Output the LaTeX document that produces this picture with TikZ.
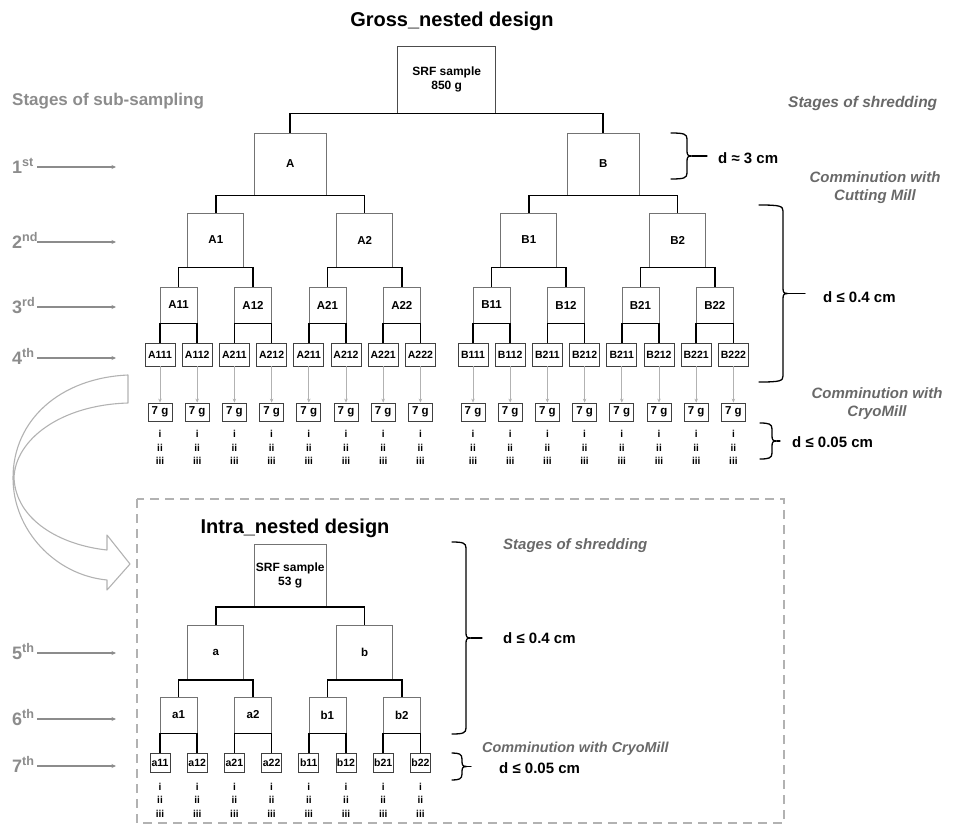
\documentclass[tikz,border=0pt]{standalone}
\usepackage{fontspec}
\setmainfont{Liberation Sans}
\usetikzlibrary{positioning,arrows.meta}
\usetikzlibrary{decorations.pathreplacing}

\definecolor{grigio}{RGB}{140,140,140}
\definecolor{grigioscuro}{RGB}{105,105,105}
\definecolor{grigiochiaro}{RGB}{178,178,178}

% Parentesi graffa: x estremi, x tratto verticale, x coda, y alto, y basso
\newcommand{\graffa}[5]{%
  \draw[graffa] (#1,#4) .. controls (#2-3,#4) and (#2,#4+1) .. (#2,#4+6)
    -- (#2,{(#4+#5)/2-5}) .. controls (#2,{(#4+#5)/2-1}) and (#2+1,{(#4+#5)/2}) .. (#2+5,{(#4+#5)/2})
    .. controls (#2+1,{(#4+#5)/2}) and (#2,{(#4+#5)/2+1}) .. (#2,{(#4+#5)/2+5})
    -- (#2,#5-6) .. controls (#2,#5-1) and (#2-3,#5) .. (#1,#5);
  \draw[graffa] (#2+5,{(#4+#5)/2}) -- (#3,{(#4+#5)/2});
}

\tikzset{
  cella/.style={draw=black!55, line width=0.8pt, inner sep=0pt, align=center,
    font=\bfseries\fontsize{11.5}{13}\selectfont},
  lv0/.style={cella, draw=black!70, minimum width=98pt, minimum height=67pt,
    font=\bfseries\fontsize{12}{14}\selectfont},
  lv1/.style={cella, minimum width=72pt, minimum height=62pt},
  lv2/.style={cella, minimum width=56pt, minimum height=54pt},
  lv3/.style={cella, minimum width=37pt, minimum height=36pt},
  lv4/.style={cella, draw=black!75, minimum width=30pt, minimum height=23pt,
    font=\bfseries\fontsize{10.5}{12}\selectfont},
  lv5/.style={lv4, minimum width=20pt, minimum height=19pt},
  gbox/.style={lv4, minimum width=24pt, minimum height=18pt,
    font=\bfseries\fontsize{11.5}{12}\selectfont},
  rep/.style={inner sep=0pt, align=center, font=\bfseries\fontsize{10}{13.5}\selectfont},
  ramo/.style={draw=black, line width=1.6pt},
  freccina/.style={draw=grigiochiaro, line width=1pt, -{Stealth[length=4pt,width=3.5pt]}},
  freccia/.style={draw=grigio, line width=1.3pt, -{Stealth[length=4.5pt,width=4pt]}},
  tappa/.style={anchor=west, inner sep=0pt, text width=25pt, text height=12.5pt,
    text depth=0pt, text=grigio, font=\bfseries\fontsize{18}{18}\selectfont},
  nota/.style={anchor=base west, inner sep=0pt, font=\bfseries\fontsize{15}{18}\selectfont},
  corsivo/.style={inner sep=0pt, text=grigioscuro,
    font=\bfseries\itshape\fontsize{15}{18}\selectfont},
  titolo/.style={anchor=base, inner sep=0pt, font=\bfseries\fontsize{20}{24}\selectfont},
  graffa/.style={draw=black, line width=1.3pt, line cap=round, line join=round}
}

\begin{document}
\begin{tikzpicture}[x=1pt, y=-1pt]
    \useasboundingbox (0,0) rectangle (953,825);

    % Riquadro tratteggiato e freccia curva
    \draw[grigiochiaro, line width=1.2pt, dash pattern=on 9pt off 6pt] (137,499) rectangle (784,823);
    \draw[grigiochiaro, line width=1.1pt, line join=round]
        (128,375) .. controls (60,378) and (13,420) .. (13,478)
        .. controls (13,530) and (55,575) .. (107,580)
        -- (107,590) -- (130,564) -- (107,535) -- (107,550)
        .. controls (60,545) and (16,520) .. (14,478)
        .. controls (15,440) and (60,405) .. (128,403) -- cycle;

    % Titoli
    \node[titolo] (tgross) at (452,26) {Gross\_nested design};
    \node[titolo] (tintra) at (295,533) {Intra\_nested design};

    % Stadi di sotto-campionamento
    \node[anchor=base west, inner sep=0pt, text=grigio, font=\bfseries\fontsize{17}{20}\selectfont]
        (subtit) at (12,105) {Stages of sub-sampling};
    \foreach \n/\suf/\y in {1/st/167, 2/nd/242, 3/rd/307, 4/th/358, 5/th/653, 6/th/719, 7/th/766}{
        \node[tappa] (o\n) at (12,\y) {\n\textsuperscript{\suf}};
        \coordinate (o\n-e) at (116,\y);
        \draw[freccia] (o\n) -- (o\n-e);
    }

    % Albero Gross_nested
    \node[lv0] (srf) at (446.7,79.5) {SRF sample\\850 g};
    \foreach \T/\xo in {A/160,B/473}{
        \foreach \s [count=\i] in {111,112,211,212,211,212,221,222}{
            \node[lv4] (\T4-\i) at ({\xo+37.2*(\i-1)},354.5) {\T\s};
            \node[gbox] (\T-g\i) at ({\xo+37.2*(\i-1)},412) {7 g};
            \node[rep] (\T-r\i) at ({\xo+37.2*(\i-1)},447.5) {i\\ii\\iii};
            \draw[freccina] (\T4-\i) -- (\T-g\i);
        }
        \foreach \s [count=\j] in {11,12,21,22}
            \node[lv3] (\T3-\j) at ({\xo+18.6+74.4*(\j-1)},305) {\T\s};
        \foreach \s [count=\j] in {1,2}
            \node[lv2] (\T2-\j) at ({\xo+55.8+148.8*(\j-1)},240) {\T\s};
        \node[lv1] (\T) at ({\xo+130.2},164) {\T};
        \foreach \j [evaluate=\j as \k using int(2*\j-1), evaluate=\j as \m using int(2*\j)] in {1,...,4}
            \draw[ramo] (\T4-\k.north) |- (\T3-\j.south) -| (\T4-\m.north);
        \foreach \j [evaluate=\j as \k using int(2*\j-1), evaluate=\j as \m using int(2*\j)] in {1,2}
            \draw[ramo] (\T3-\k.north) |- (\T2-\j.south) -| (\T3-\m.north);
        \draw[ramo] (\T2-1.north) |- (\T.south) -| (\T2-2.north);
    }
    \draw[ramo] (A.north) |- (srf.south) -| (B.north);

    % Albero Intra_nested
    \node[lv1, font=\bfseries\fontsize{12}{14}\selectfont] (srf2) at (290.2,575.5) {SRF sample\\53 g};
    \foreach \T/\xo in {a/160,b/308.8}{
        \foreach \s [count=\i] in {11,12,21,22}{
            \node[lv5] (\T4-\i) at ({\xo+37.2*(\i-1)},762.5) {\T\s};
            \node[rep] (\T-r\i) at ({\xo+37.2*(\i-1)},800) {i\\ii\\iii};
        }
        \foreach \s [count=\j] in {1,2}
            \node[lv3] (\T3-\j) at ({\xo+18.6+74.4*(\j-1)},715) {\T\s};
        \node[lv2] (\T) at ({\xo+55.8},652.5) {\T};
        \foreach \j [evaluate=\j as \k using int(2*\j-1), evaluate=\j as \m using int(2*\j)] in {1,2}
            \draw[ramo] (\T4-\k.north) |- (\T3-\j.south) -| (\T4-\m.north);
        \draw[ramo] (\T3-1.north) |- (\T.south) -| (\T3-2.north);
    }
    \draw[ramo] (a.north) |- (srf2.south) -| (b.north);

    % Stadi di triturazione e granulometrie
    \node[corsivo, anchor=base west, font=\bfseries\itshape\fontsize{15.5}{18}\selectfont]
        (shred1) at (788,107) {Stages of shredding};
    \node[corsivo, align=center] (cm1) at (875,187.5) {Comminution with\\Cutting Mill};
    \node[corsivo, align=center] (cm2) at (877,403.5) {Comminution with\\CryoMill};
    \node[corsivo, anchor=base west] (shred2) at (503,549) {Stages of shredding};
    \node[corsivo, anchor=base west, font=\bfseries\itshape\fontsize{14.4}{17}\selectfont]
        (cm3) at (482,752) {Comminution with CryoMill};

    \node[nota] (d1) at (718,163) {d ≈ 3 cm};
    \node[nota] (d2) at (823,302) {d ≤ 0.4 cm};
    \node[nota] (d3) at (792,447) {d ≤ 0.05 cm};
    \node[nota] (d4) at (503,643) {d ≤ 0.4 cm};
    \node[nota] (d5) at (499,773) {d ≤ 0.05 cm};

    \graffa{671}{687}{707}{133}{179}
    \graffa{759}{783}{805}{205}{382}
    \graffa{760}{772}{780}{423}{459}
    \graffa{452}{466}{482}{542}{734}
    \graffa{452}{462}{471}{753}{780}

\end{tikzpicture}
\end{document}
